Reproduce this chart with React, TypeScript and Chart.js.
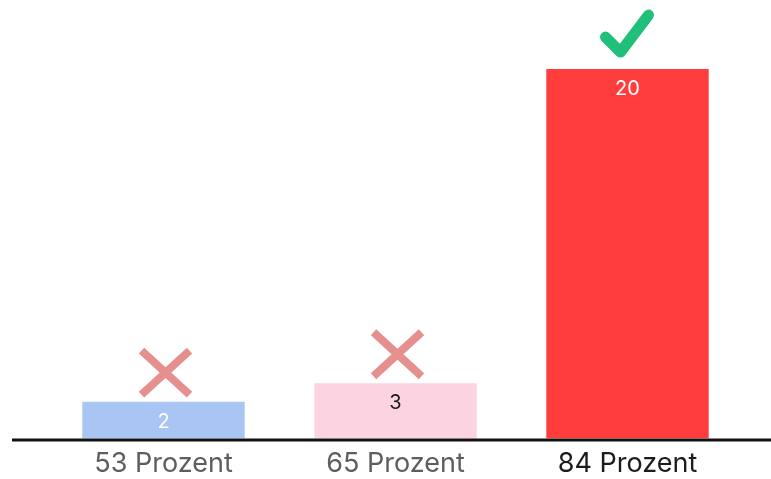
import React, { useEffect, useRef } from "react";
import { Chart, registerables } from "chart.js";

Chart.register(...registerables);

const categories = ["53 Prozent", "65 Prozent", "84 Prozent"];
const values = [2, 3, 20];
const barColors = ["#a9c5f4", "#fcd3e0", "#ff3d3d"];
const valueLabelColors = ["#ffffff", "#1a1a1a", "#ffffff"];
const tickColors = ["#5e5e5e", "#5e5e5e", "#1c1c1c"];
const marks = ["cross", "cross", "check"];

const markPlugin = {
  id: "marks",
  afterDatasetsDraw(chart: any) {
    const ctx = chart.ctx;
    const meta = chart.getDatasetMeta(0);
    const area = chart.chartArea;
    // baseline
    ctx.save();
    ctx.strokeStyle = "#111111";
    ctx.lineWidth = 3;
    ctx.beginPath();
    ctx.moveTo(12, area.bottom + 1.5);
    ctx.lineTo(chart.width, area.bottom + 1.5);
    ctx.stroke();
    ctx.restore();

    meta.data.forEach((bar: any, i: number) => {
      // value label
      ctx.save();
      ctx.font = "20px Inter";
      ctx.fillStyle = valueLabelColors[i];
      ctx.textAlign = "center";
      ctx.textBaseline = "middle";
      ctx.fillText(String(values[i]), bar.x, bar.y + 20);
      ctx.restore();

      // mark
      ctx.save();
      if (marks[i] === "cross") {
        const cx = bar.x + 2;
        const cy = bar.y - 29;
        const hx = 24;
        const hy = 22;
        ctx.strokeStyle = "#e68f8f";
        ctx.lineWidth = 8;
        ctx.lineCap = "butt";
        ctx.beginPath();
        ctx.moveTo(cx - hx, cy - hy);
        ctx.lineTo(cx + hx, cy + hy);
        ctx.moveTo(cx + hx, cy - hy);
        ctx.lineTo(cx - hx, cy + hy);
        ctx.stroke();
      } else {
        ctx.strokeStyle = "#20c07b";
        ctx.lineWidth = 11;
        ctx.lineJoin = "round";
        ctx.lineCap = "round";
        ctx.beginPath();
        ctx.moveTo(bar.x - 22, bar.y - 32);
        ctx.lineTo(bar.x - 7, bar.y - 17);
        ctx.lineTo(bar.x + 21, bar.y - 54);
        ctx.stroke();
      }
      ctx.restore();
    });
  },
};

export default function App() {
  const ref = useRef<HTMLCanvasElement | null>(null);
  useEffect(() => {
    if (!ref.current) return;
    const chart = new Chart(ref.current, {
      type: "bar",
      data: {
        labels: categories,
        datasets: [
          {
            data: values,
            backgroundColor: barColors,
            borderWidth: 0,
            categoryPercentage: 0.7,
            barPercentage: 1,
          },
        ],
      },
      options: {
        animation: false,
        responsive: true,
        maintainAspectRatio: false,
        layout: { padding: { left: 47.5, right: 27.5, top: 10, bottom: 0 } },
        plugins: { legend: { display: false }, tooltip: { enabled: false } },
        scales: {
          y: { display: false, min: 0, max: 23.2 },
          x: {
            grid: { display: false, drawTicks: false },
            border: { display: false },
            ticks: {
              color: tickColors,
              font: { family: "Inter", size: 27 },
              padding: 9,
            },
          },
        },
      },
      plugins: [markPlugin],
    });
    return () => chart.destroy();
  }, []);
  return (
    <div style={{ position: "fixed", left: 0, top: 0, width: 771, height: 479, overflow: "hidden", background: "#fff" }}>
      <div style={{ position: "relative", width: 771, height: 489 }}>
        <canvas ref={ref} />
      </div>
    </div>
  );
}
